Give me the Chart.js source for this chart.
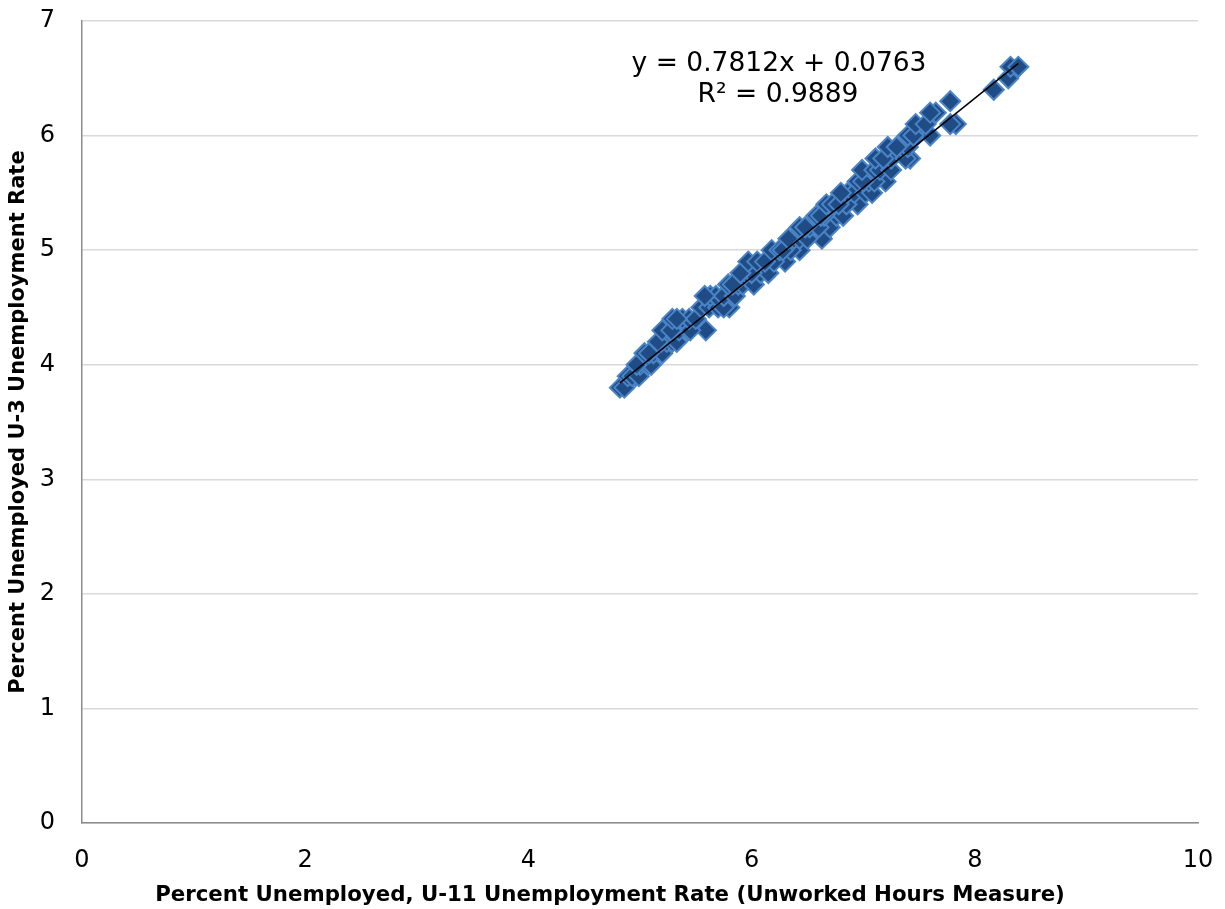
<!DOCTYPE html>
<html>
<head>
<meta charset="utf-8">
<script src="https://cdn.jsdelivr.net/npm/chart.js@4.4.1/dist/chart.umd.min.js"></script>
<style>
html,body{margin:0;padding:0;background:#fff;}
#wrap{width:1225px;height:909px;position:relative;}
</style>
</head>
<body>
<div id="wrap"><canvas id="c" width="1225" height="909"></canvas></div>
<script>
// U-11 (x) values
const u11 = [
  4.82, 4.86,
  4.89, 4.96, 4.93, 4.99,
  5.00, 5.07, 5.10, 4.97,
  5.04, 5.12, 5.20, 5.08,
  5.24, 5.29, 5.33, 5.19, 5.16,
  5.20, 5.35, 5.43, 5.59, 5.45, 5.28,
  5.29, 5.38, 5.44, 5.50, 5.33,
  5.55, 5.62, 5.80, 5.70, 5.75,
  5.63, 5.68, 5.75, 5.85, 5.58,
  5.79, 5.88, 5.92, 6.02, 5.83,
  5.95, 6.08, 6.15, 6.00, 5.90,
  5.97, 6.05, 6.30, 6.20, 6.12,
  6.18, 6.25, 6.43, 6.35, 6.28,
  6.38, 6.43, 6.63, 6.50, 6.33,
  6.43, 6.52, 6.70, 6.60, 6.48,
  6.58, 6.76, 6.82, 6.65, 6.62,
  6.67, 6.72, 6.95, 6.85, 6.78,
  6.86, 6.92, 7.02, 7.08, 6.80,
  6.95, 7.05, 7.20, 7.10, 7.00,
  6.99, 7.10, 7.15, 7.25,
  7.11, 7.25, 7.42, 7.38, 7.18,
  7.22, 7.35, 7.40, 7.30,
  7.40, 7.48, 7.60, 7.45,
  7.47, 7.56, 7.83, 7.78,
  7.65, 7.60,
  7.78,
  8.17,
  8.30,
  8.32, 8.39
];
// U-3 (y) values
const u3 = [
  3.8, 3.8,
  3.9, 3.9, 3.9, 3.9,
  4.0, 4.0, 4.0, 4.0,
  4.1, 4.1, 4.1, 4.1,
  4.2, 4.2, 4.2, 4.2, 4.2,
  4.3, 4.3, 4.3, 4.3, 4.3, 4.3,
  4.4, 4.4, 4.4, 4.4, 4.4,
  4.5, 4.5, 4.5, 4.5, 4.5,
  4.6, 4.6, 4.6, 4.6, 4.6,
  4.7, 4.7, 4.7, 4.7, 4.7,
  4.8, 4.8, 4.8, 4.8, 4.8,
  4.9, 4.9, 4.9, 4.9, 4.9,
  5.0, 5.0, 5.0, 5.0, 5.0,
  5.1, 5.1, 5.1, 5.1, 5.1,
  5.2, 5.2, 5.2, 5.2, 5.2,
  5.3, 5.3, 5.3, 5.3, 5.3,
  5.4, 5.4, 5.4, 5.4, 5.4,
  5.5, 5.5, 5.5, 5.5, 5.5,
  5.6, 5.6, 5.6, 5.6, 5.6,
  5.7, 5.7, 5.7, 5.7,
  5.8, 5.8, 5.8, 5.8, 5.8,
  5.9, 5.9, 5.9, 5.9,
  6.0, 6.0, 6.0, 6.0,
  6.1, 6.1, 6.1, 6.1,
  6.2, 6.2,
  6.3,
  6.4,
  6.5,
  6.6, 6.6
];
// Trend line from the displayed equation
const trendSlope = 0.7812;
const trendIntercept = 0.0763;
const trendX = [4.82, 8.39];
const eqText = ["y = 0.7812x + 0.0763", "R\u00b2 = 0.9889"];
const xTicks = [0, 2, 4, 6, 8, 10];
const yTicks = [0, 1, 2, 3, 4, 5, 6, 7];
const xTitle = "Percent Unemployed, U-11 Unemployment Rate (Unworked Hours Measure)";
const yTitle = "Percent Unemployed U-3 Unemployment Rate";

const points = u11.map((x, i) => ({x: x, y: u3[i]}));
const trend = trendX.map(x => ({x: x, y: trendSlope * x + trendIntercept}));

const FONT = "'DejaVu Sans', Verdana, sans-serif";

const textPlugin = {
  id: 'texts',
  afterDraw(chart) {
    const ctx = chart.ctx;
    ctx.save();
    ctx.fillStyle = '#000';
    ctx.font = '26.5px ' + FONT;
    ctx.textAlign = 'center';
    ctx.textBaseline = 'middle';
    ctx.fillText(eqText[0], 779, 64);
    ctx.fillText(eqText[1], 778, 95);
    ctx.font = 'bold 21.3px ' + FONT;
    ctx.fillText(xTitle, 610, 895);
    ctx.restore();
  }
};

new Chart(document.getElementById('c'), {
  type: 'scatter',
  data: {
    datasets: [
      {
        label: 'data',
        data: points,
        pointStyle: 'rectRot',
        pointRadius: 10,
        pointBorderWidth: 2,
        backgroundColor: '#1F4C85',
        borderColor: '#4A84C6',
        order: 2
      },
      {
        label: 'trend',
        type: 'line',
        data: trend,
        borderColor: '#000',
        borderWidth: 1.5,
        pointRadius: 0,
        fill: false,
        order: 1
      }
    ]
  },
  options: {
    responsive: false,
    animation: false,
    layout: {padding: {left: 0, top: 21, right: 27, bottom: 0}},
    plugins: {legend: {display: false}, tooltip: {enabled: false}},
    scales: {
      x: {
        type: 'linear',
        min: 0, max: 10,
        afterBuildTicks: s => { s.ticks = xTicks.map(v => ({value: v})); },
        afterFit: s => { s.height = 86; s.paddingLeft = 0; s.paddingRight = 0; },
        ticks: {color: '#000', font: {family: FONT, size: 24}, padding: 15},
        grid: {display: false},
        border: {display: true, color: '#8c8c8c', width: 1.5},
        title: {display: false}
      },
      y: {
        type: 'linear',
        min: 0, max: 7,
        afterBuildTicks: s => { s.ticks = yTicks.map(v => ({value: v})); },
        afterFit: s => { s.width = 82; s.paddingTop = 0; s.paddingBottom = 0; },
        ticks: {color: '#000', font: {family: FONT, size: 24}, padding: 27},
        grid: {color: '#d9d9d9', lineWidth: 1.5, drawTicks: false},
        border: {display: true, color: '#8c8c8c', width: 1.5},
        title: {display: true, text: yTitle, color: '#000', font: {family: FONT, size: 21, weight: 'bold'}, padding: {top: 6, bottom: 0}}
      }
    }
  },
  plugins: [textPlugin]
});
</script>
</body>
</html>
